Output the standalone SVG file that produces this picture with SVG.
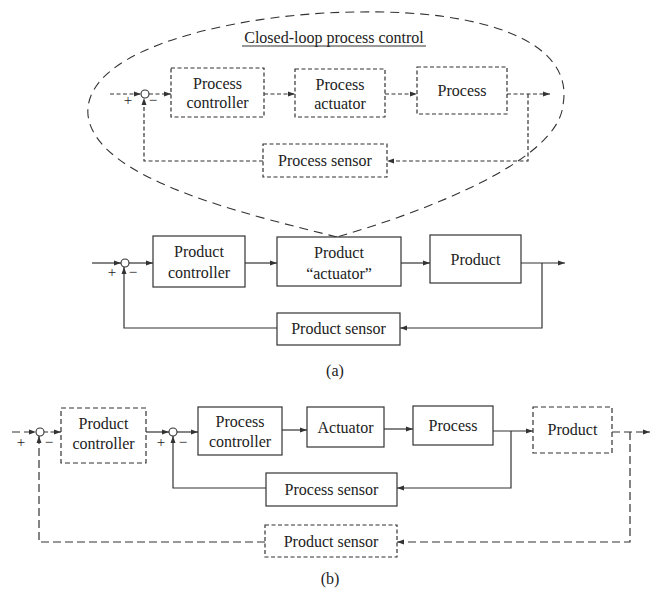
<svg xmlns="http://www.w3.org/2000/svg" width="651" height="591" viewBox="0 0 651 591">
<style>
text{font-family:"Liberation Serif","Times New Roman",serif;font-size:16px;fill:#222;text-anchor:middle}
.b{fill:#fff;stroke:#333;stroke-width:1.2}
.bd{fill:#fff;stroke:#333;stroke-width:1.2;stroke-dasharray:4 2.5}
.bd2{fill:#fff;stroke:#333;stroke-width:1.2;stroke-dasharray:5 3}
.c{fill:none;stroke:#333;stroke-width:1.2}
.cd{fill:none;stroke:#333;stroke-width:1.2;stroke-dasharray:4 2.5}
.cl{fill:none;stroke:#333;stroke-width:1.2;stroke-dasharray:8 4}
.el{fill:none;stroke:#333;stroke-width:1.1;stroke-dasharray:9 6}
.s{fill:#fff;stroke:#333;stroke-width:1.1}
.sg{font-size:15px}
</style>
<defs>
<marker id="ah" markerWidth="7" markerHeight="6" refX="7" refY="3" orient="auto" markerUnits="userSpaceOnUse">
<path d="M0,0.5 L7,3 L0,5.5 Z" fill="#333"/>
</marker>
</defs>

<g id="balloon">
<path class="el" d="M 337,237 C 250,215 95,180 88,115 C 82,45 250,12 360,12 C 480,10 575,40 563,105 C 558,160 430,210 337,237"/>
<text x="334" y="43">Closed-loop process control</text>
<line x1="242" y1="46" x2="426" y2="46" stroke="#333" stroke-width="1"/>
</g>

<g id="connectors">
<!-- top inner loop -->
<path class="cd" d="M110,94 L141,94" marker-end="url(#ah)"/>
<path class="cd" d="M149,94 L171,94" marker-end="url(#ah)"/>
<path class="cd" d="M264,94 L295,94" marker-end="url(#ah)"/>
<path class="cd" d="M385,94 L417,94" marker-end="url(#ah)"/>
<path class="cd" d="M507,94 L550,94" marker-end="url(#ah)"/>
<path class="cd" d="M528,94 L528,161 L387,161" marker-end="url(#ah)"/>
<path class="cd" d="M263,161 L144,161 L144,98" marker-end="url(#ah)"/>
<!-- (a) -->
<path class="c" d="M92,263 L121,263" marker-end="url(#ah)"/>
<path class="c" d="M129,263 L153,263" marker-end="url(#ah)"/>
<path class="c" d="M245,263 L277,263" marker-end="url(#ah)"/>
<path class="c" d="M401,263 L430,263" marker-end="url(#ah)"/>
<path class="c" d="M521,263 L565,263" marker-end="url(#ah)"/>
<path class="c" d="M542,263 L542,328 L400,328" marker-end="url(#ah)"/>
<path class="c" d="M277,328 L124,328 L124,267" marker-end="url(#ah)"/>
<!-- (b) -->
<path class="cl" d="M12,432 L36,432" marker-end="url(#ah)"/>
<path class="cd" d="M44,432 L61,432" marker-end="url(#ah)"/>
<path class="c" d="M146,432 L169,432" marker-end="url(#ah)"/>
<path class="c" d="M177,432 L198,432" marker-end="url(#ah)"/>
<path class="c" d="M282,430 L307,430" marker-end="url(#ah)"/>
<path class="c" d="M384,429 L413,429" marker-end="url(#ah)"/>
<path class="c" d="M493,431 L533,431" marker-end="url(#ah)"/>
<path class="c" d="M511,431 L511,488 L397,488" marker-end="url(#ah)"/>
<path class="c" d="M266,488 L173,488 L173,436" marker-end="url(#ah)"/>
<path class="cl" d="M612,432 L650,432" marker-end="url(#ah)"/>
<path class="cl" d="M630,432 L630,542 L397,542" marker-end="url(#ah)"/>
<path class="cl" d="M265,542 L39,542 L39,436" marker-end="url(#ah)"/>
</g>

<g id="sum-top">
<circle class="s" cx="145" cy="94" r="4"/>
<text class="sg" x="128" y="105">+</text>
<text class="sg" x="153" y="105">−</text>
</g>
<g id="process-controller-top">
<rect class="bd" x="171" y="68" width="93" height="49"/>
<text x="217.5" y="89">Process</text>
<text x="217.5" y="108">controller</text>
</g>
<g id="process-actuator-top">
<rect class="bd" x="295" y="69" width="90" height="48"/>
<text x="340" y="90">Process</text>
<text x="340" y="109">actuator</text>
</g>
<g id="process-top">
<rect class="bd" x="417" y="67" width="90" height="47"/>
<text x="462" y="96">Process</text>
</g>
<g id="process-sensor-top">
<rect class="bd" x="263" y="144" width="124" height="33"/>
<text x="325" y="166">Process sensor</text>
</g>

<g id="sum-a">
<circle class="s" cx="125" cy="263" r="4"/>
<text class="sg" x="112" y="277">+</text>
<text class="sg" x="133" y="277">−</text>
</g>
<g id="product-controller-a">
<rect class="b" x="153" y="236" width="92" height="51"/>
<text x="199" y="257">Product</text>
<text x="199" y="278">controller</text>
</g>
<g id="product-actuator-a">
<rect class="b" x="277" y="237" width="124" height="49"/>
<text x="339" y="258">Product</text>
<text x="339" y="279">“actuator”</text>
</g>
<g id="product-a">
<rect class="b" x="430" y="235" width="91" height="48"/>
<text x="475.5" y="265">Product</text>
</g>
<g id="product-sensor-a">
<rect class="b" x="277" y="313" width="123" height="32"/>
<text x="338.5" y="334">Product sensor</text>
</g>
<text x="335" y="376">(a)</text>

<g id="sum-b1">
<circle class="s" cx="40" cy="432" r="4"/>
<text class="sg" x="21" y="447">+</text>
<text class="sg" x="49" y="447">−</text>
</g>
<g id="product-controller-b">
<rect class="bd2" x="61" y="408" width="85" height="55"/>
<text x="103.5" y="429">Product</text>
<text x="103.5" y="449">controller</text>
</g>
<g id="sum-b2">
<circle class="s" cx="173" cy="432" r="4"/>
<text class="sg" x="161" y="447">+</text>
<text class="sg" x="183" y="447">−</text>
</g>
<g id="process-controller-b">
<rect class="b" x="198" y="407" width="84" height="48"/>
<text x="240" y="427">Process</text>
<text x="240" y="447">controller</text>
</g>
<g id="actuator-b">
<rect class="b" x="307" y="407" width="77" height="40"/>
<text x="345.5" y="433">Actuator</text>
</g>
<g id="process-b">
<rect class="b" x="413" y="406" width="80" height="39"/>
<text x="453" y="431">Process</text>
</g>
<g id="product-b">
<rect class="bd2" x="533" y="407" width="79" height="46"/>
<text x="572.5" y="435">Product</text>
</g>
<g id="process-sensor-b">
<rect class="b" x="266" y="473" width="131" height="33"/>
<text x="331.5" y="495">Process sensor</text>
</g>
<g id="product-sensor-b">
<rect class="bd" x="265" y="525" width="132" height="32"/>
<text x="331" y="547">Product sensor</text>
</g>
<text x="330" y="584">(b)</text>
</svg>
